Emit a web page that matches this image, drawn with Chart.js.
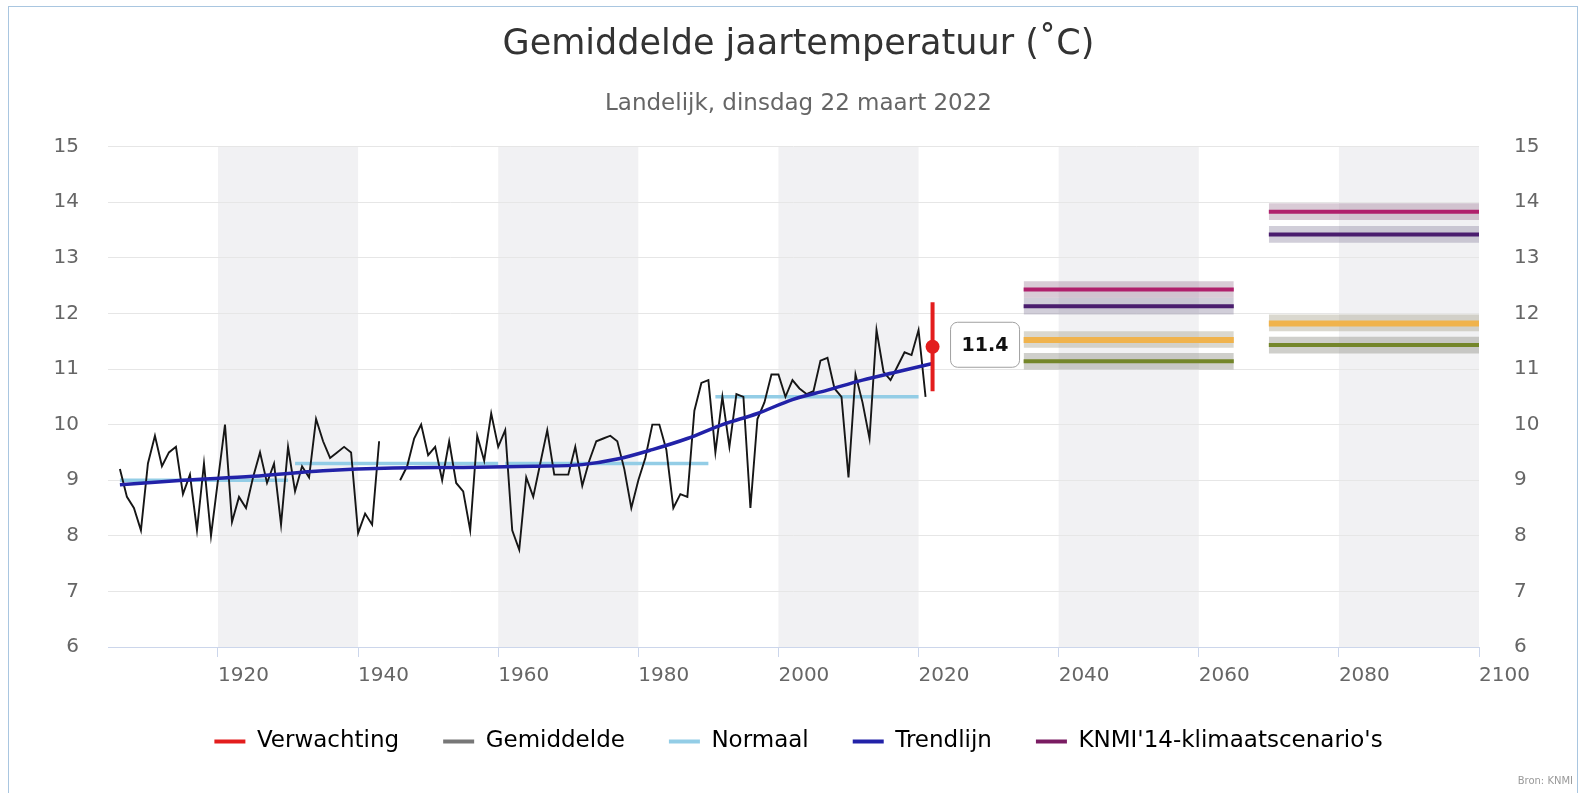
<!DOCTYPE html>
<html>
<head>
<meta charset="utf-8">
<script src="https://cdn.jsdelivr.net/npm/chart.js@4"></script>
<style>
  html, body { margin: 0; padding: 0; background: #fff; }
  #wrap { position: relative; width: 1581px; height: 793px; overflow: hidden; }
  #frame { position: absolute; left: 8px; top: 6px; width: 1570px; height: 800px; border: 1px solid #a9c6e0; box-sizing: border-box; pointer-events: none; }
</style>
</head>
<body>
<div id="wrap">
  <canvas id="myChart" width="1581" height="793"></canvas>
  <div id="frame"></div>
</div>
<script>
// gemiddelde jaartemperatuur, landelijk
const years = [1906,1907,1908,1909,1910,1911,1912,1913,1914,1915,1916,1917,1918,1919,1920,1921,1922,1923,1924,1925,
  1926,1927,1928,1929,1930,1931,1932,1933,1934,1935,1936,1937,1938,1939,1940,1941,1942,1943,1944,1945,
  1946,1947,1948,1949,1950,1951,1952,1953,1954,1955,1956,1957,1958,1959,1960,1961,1962,1963,1964,1965,
  1966,1967,1968,1969,1970,1971,1972,1973,1974,1975,1976,1977,1978,1979,1980,1981,1982,1983,1984,1985,
  1986,1987,1988,1989,1990,1991,1992,1993,1994,1995,1996,1997,1998,1999,2000,2001,2002,2003,2004,2005,
  2006,2007,2008,2009,2010,2011,2012,2013,2014,2015,2016,2017,2018,2019,2020,2021];
const temps = [9.2,8.7,8.5,8.1,9.3,9.8,9.25,9.5,9.6,8.75,9.1,8.1,9.3,8.0,9.0,10.0,8.25,8.7,8.5,9.05,
  9.5,8.95,9.3,8.2,9.6,8.8,9.25,9.05,10.1,9.7,9.4,9.5,9.6,9.5,8.05,8.4,8.2,9.7,null,null,
  9.0,9.25,9.75,10.0,9.45,9.6,9.0,9.7,8.95,8.8,8.1,9.8,9.35,10.2,9.6,9.9,8.1,7.75,9.05,8.7,
  9.3,9.9,9.1,9.1,9.1,9.6,8.9,9.35,9.7,9.75,9.8,9.7,9.2,8.5,9.0,9.4,10.0,10.0,9.55,8.5,
  8.75,8.7,10.25,10.75,10.8,9.5,10.5,9.6,10.55,10.5,8.5,10.1,10.4,10.9,10.9,10.5,10.8,10.65,10.55,10.6,
  11.15,11.2,10.65,10.5,9.05,10.9,10.4,9.75,11.7,10.95,10.8,11.05,11.3,11.25,11.7,10.5];

// trendlijn
const trendYears = [1906,1915,1925,1935,1945,1955,1965,1972,1977,1982,1987,1992,1997,2002,2007,2012,2017,2022];
const trendValues = [8.92,9.0,9.07,9.17,9.22,9.23,9.25,9.28,9.38,9.55,9.75,10.0,10.2,10.45,10.62,10.8,10.95,11.1];

// normalen (30 jaar)
const normalStart = [1906,1931,1961,1991];
const normalEnd = [1930,1960,1990,2020];
const normalValue = [9.0,9.3,9.3,10.5];

// verwachting 2022
const forecastYear = 2022;
const forecastValue = 11.4;
const forecastLow = 10.6;
const forecastHigh = 12.2;

// KNMI'14 scenario's: WH, WL, GH, GL
const scenarioStart = [2035,2070];
const scenarioEnd = [2065,2100];
const scenarioColors = ['#b0206c','#4a1d6e','#f0b34c','#74862a'];
const scenarioRangeColors = ['rgba(165,130,158,0.42)','rgba(145,138,165,0.42)','rgba(168,162,140,0.42)','rgba(148,148,140,0.45)'];
const scenarioWidths = [4,4,6,4];
const scenarioValues = [[12.43,12.13,11.52,11.14],[13.83,13.42,11.82,11.43]];
const scenarioLow = [[12.28,11.98,11.38,10.99],[13.68,13.27,11.68,11.28]];
const scenarioHigh = [[12.58,12.28,11.68,11.29],[13.98,13.57,11.98,11.58]];

// assen
const xTicks = [1920,1940,1960,1980,2000,2020,2040,2060,2080,2100];
const yTicks = [6,7,8,9,10,11,12,13,14,15];
const bandStarts = [1920,1960,2000,2040,2080];
const bandWidth = 20;

const legendItems = [
  ['Verwachting','#e31d1d'],
  ['Gemiddelde','#777777'],
  ['Normaal','#93cde6'],
  ['Trendlijn','#2222a8'],
  ["KNMI'14-klimaatscenario's",'#7a1c62']
];

Chart.defaults.font.family = 'DejaVu Sans';

const datasets = [];

// red forecast
datasets.push({
  data: [{x: forecastYear, y: forecastValue}],
  showLine: false, pointRadius: 7, pointBackgroundColor: '#e31d1d', pointBorderWidth: 0,
  order: 0
});
datasets.push({
  data: [{x: forecastYear, y: forecastLow}, {x: forecastYear, y: forecastHigh}],
  borderColor: '#e31d1d', borderWidth: 4, pointRadius: 0, order: 1
});

// trend
datasets.push({
  data: trendYears.map((y, i) => ({x: y, y: trendValues[i]})),
  borderColor: '#2222a8', borderWidth: 3.5, pointRadius: 0,
  cubicInterpolationMode: 'monotone', order: 2
});

// gemiddelde
datasets.push({
  data: years.map((y, i) => ({x: y, y: temps[i]})),
  borderColor: '#161616', borderWidth: 1.9, pointRadius: 0, spanGaps: false, order: 3
});

// normalen
normalStart.forEach((s, i) => {
  datasets.push({
    data: [{x: s, y: normalValue[i]}, {x: normalEnd[i], y: normalValue[i]}],
    borderColor: '#93cde6', borderWidth: 3.5, pointRadius: 0, order: 4
  });
});

// scenario lines and ranges
scenarioStart.forEach((s, p) => {
  scenarioValues[p].forEach((v, k) => {
    datasets.push({
      data: [{x: s, y: v}, {x: scenarioEnd[p], y: v}],
      borderColor: scenarioColors[k], borderWidth: scenarioWidths[k], borderCapStyle: 'butt',
      pointRadius: 0, order: 5
    });
    datasets.push({
      data: [{x: s, y: scenarioHigh[p][k]}, {x: scenarioEnd[p], y: scenarioHigh[p][k]}],
      borderWidth: 0, pointRadius: 0,
      fill: {value: scenarioLow[p][k]}, backgroundColor: scenarioRangeColors[k], order: 6
    });
  });
});

const bandsPlugin = {
  id: 'bands',
  beforeDraw(chart) {
    const {ctx, chartArea, scales} = chart;
    ctx.save();
    ctx.fillStyle = '#f1f1f3';
    bandStarts.forEach(b => {
      const x1 = scales.x.getPixelForValue(b);
      const x2 = scales.x.getPixelForValue(b + bandWidth);
      ctx.fillRect(x1, chartArea.top, x2 - x1, chartArea.bottom - chartArea.top);
    });
    ctx.restore();
  }
};

const labelPlugin = {
  id: 'forecastLabel',
  afterDatasetsDraw(chart) {
    const pt = chart.getDatasetMeta(0).data[0];
    if (!pt) return;
    const ctx = chart.ctx;
    const w = 69, h = 45, x = pt.x + 18, y = pt.y - h / 2 - 2;
    ctx.save();
    ctx.beginPath();
    ctx.roundRect(x, y, w, h, 7);
    ctx.fillStyle = '#ffffff';
    ctx.fill();
    ctx.lineWidth = 1;
    ctx.strokeStyle = '#a0a0a0';
    ctx.stroke();
    ctx.fillStyle = '#111';
    ctx.font = 'bold 19px DejaVu Sans';
    ctx.textAlign = 'center';
    ctx.textBaseline = 'middle';
    ctx.fillText(String(forecastValue), x + w / 2, y + h / 2 + 1);
    ctx.restore();
  }
};

const creditPlugin = {
  id: 'credit',
  afterDraw(chart) {
    const ctx = chart.ctx;
    ctx.save();
    ctx.font = '10px DejaVu Sans';
    ctx.fillStyle = '#999';
    ctx.textAlign = 'right';
    ctx.textBaseline = 'middle';
    ctx.fillText('Bron: KNMI', 1573, 781);
    ctx.restore();
  }
};

const myChart = new Chart(document.getElementById('myChart'), {
  type: 'line',
  data: {datasets: datasets},
  options: {
    responsive: false,
    animation: false,
    devicePixelRatio: 1,
    layout: {padding: {top: 8, left: 18, right: 2, bottom: 30}},
    scales: {
      x: {
        type: 'linear', min: 1904.3, max: 2100,
        afterBuildTicks: s => { s.ticks = xTicks.map(v => ({value: v})); },
        afterFit: s => { s.height = 39; },
        grid: {drawOnChartArea: false, color: '#ccd6eb', tickLength: 10},
        border: {color: '#ccd6eb'},
        ticks: {align: 'start', padding: 7, color: '#666', font: {size: 20}, callback: v => String(v)}
      },
      y: {
        type: 'linear', position: 'left', min: 6, max: 15,
        afterBuildTicks: s => { s.ticks = yTicks.map(v => ({value: v})); },
        afterFit: s => { s.width = 90; },
        grid: {color: '#e6e6e6', drawTicks: false},
        border: {display: false},
        ticks: {padding: 29, color: '#666', font: {size: 20}, callback: v => String(v)}
      },
      y2: {
        type: 'linear', position: 'right', min: 6, max: 15,
        afterBuildTicks: s => { s.ticks = yTicks.map(v => ({value: v})); },
        afterFit: s => { s.width = 100; },
        grid: {drawOnChartArea: false, drawTicks: false},
        border: {display: false},
        ticks: {padding: 35, color: '#666', font: {size: 20}, callback: v => String(v)}
      }
    },
    plugins: {
      tooltip: {enabled: false},
      title: {
        display: true, text: 'Gemiddelde jaartemperatuur (˚C)', color: '#333',
        font: {size: 35, weight: 'normal'}, padding: {top: 16, bottom: 12}
      },
      subtitle: {
        display: true, text: 'Landelijk, dinsdag 22 maart 2022', color: '#666',
        font: {size: 23, weight: 'normal'}, padding: {top: 12, bottom: 29}
      },
      legend: {
        position: 'bottom',
        onClick: null,
        labels: {
          color: '#333', font: {size: 23}, boxWidth: 31, boxHeight: 4, padding: 44,
          generateLabels: () => legendItems.map(([t, c]) => ({
            text: t, fillStyle: c, strokeStyle: c, lineWidth: 0, hidden: false
          }))
        }
      }
    }
  },
  plugins: [bandsPlugin, labelPlugin, creditPlugin]
});
</script>
</body>
</html>
